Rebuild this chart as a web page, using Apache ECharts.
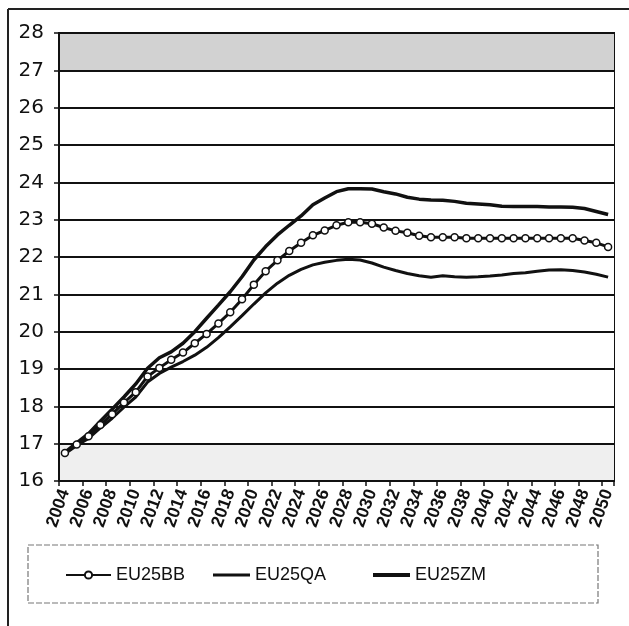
<!DOCTYPE html>
<html>
<head>
<meta charset="utf-8">
<script src="https://cdn.jsdelivr.net/npm/echarts@6/dist/echarts.min.js"></script>
<style>
html,body{margin:0;padding:0;background:#fff;}
#c{width:629px;height:626px;}
</style>
</head>
<body>
<div id="c"></div>
<script>
const years = ["2004","2005","2006","2007","2008","2009","2010","2011","2012","2013","2014","2015","2016","2017","2018","2019","2020","2021","2022","2023","2024","2025","2026","2027","2028","2029","2030","2031","2032","2033","2034","2035","2036","2037","2038","2039","2040","2041","2042","2043","2044","2045","2046","2047","2048","2049","2050"];
const eu25BB = [16.75,16.98,17.2,17.5,17.79,18.1,18.38,18.8,19.03,19.25,19.44,19.69,19.94,20.22,20.52,20.87,21.26,21.62,21.91,22.16,22.38,22.58,22.71,22.85,22.93,22.93,22.89,22.79,22.7,22.65,22.57,22.53,22.53,22.53,22.5,22.5,22.5,22.5,22.5,22.5,22.5,22.5,22.5,22.5,22.44,22.38,22.27];
const eu25QA = [16.73,16.95,17.14,17.42,17.68,17.98,18.25,18.65,18.88,19.05,19.2,19.37,19.58,19.84,20.13,20.43,20.74,21.04,21.3,21.51,21.67,21.79,21.86,21.91,21.94,21.92,21.84,21.73,21.64,21.56,21.5,21.46,21.5,21.47,21.46,21.47,21.49,21.52,21.56,21.58,21.62,21.65,21.66,21.64,21.6,21.54,21.46];
const eu25ZM = [16.77,17.02,17.27,17.6,17.92,18.25,18.6,19.02,19.3,19.46,19.69,20.0,20.36,20.71,21.07,21.47,21.92,22.28,22.59,22.85,23.1,23.4,23.58,23.75,23.83,23.83,23.82,23.75,23.69,23.6,23.55,23.53,23.52,23.49,23.44,23.42,23.4,23.36,23.35,23.35,23.35,23.34,23.34,23.33,23.3,23.22,23.14];
const seriesNames = ["EU25BB","EU25QA","EU25ZM"];
const yTicks = {min:16, max:28, step:1};

const chart = echarts.init(document.getElementById('c'), null, {renderer:'canvas'});
const bandColors = ['#efefef','#fff','#fff','#fff','#fff','#fff','#fff','#fff','#fff','#fff','#fff','#d2d2d2'];
const legendText = {fontSize:18, color:'#111', fontFamily:'Liberation Sans, Arial, sans-serif'};
chart.setOption({
  animation:false,
  backgroundColor:'#fff',
  graphic:[
    {type:'line', shape:{x1:8,y1:9,x2:629,y2:9}, style:{stroke:'#222',lineWidth:2}},
    {type:'line', shape:{x1:8,y1:9,x2:8,y2:626}, style:{stroke:'#222',lineWidth:2}},
    {type:'rect', shape:{x:28,y:545,width:570,height:58}, style:{fill:'none',stroke:'#777',lineWidth:1.2,lineDash:[6,2]}, z:-1}
  ],
  grid:{left:59,right:15,top:33,bottom:145,show:true,borderColor:'#111',borderWidth:2,backgroundColor:'transparent'},
  legend:[
    {data:[{name:seriesNames[0]}], left:60, top:561, itemWidth:45, itemHeight:9, textStyle:legendText, itemGap:0},
    {data:[{name:seriesNames[1], icon:'rect'}], left:208, top:561, itemWidth:37, itemHeight:3, textStyle:legendText, itemGap:0},
    {data:[{name:seriesNames[2], icon:'rect'}], left:368, top:561, itemWidth:37, itemHeight:4, textStyle:legendText, itemGap:0}
  ],
  xAxis:{
    type:'category', data:years, boundaryGap:true,
    axisLine:{lineStyle:{color:'#111',width:2}},
    axisTick:{show:true, interval:1, length:5, lineStyle:{color:'#111',width:1.5}},
    axisLabel:{interval:1, rotate:70, fontSize:17.5, color:'#111', margin:9, fontFamily:'Liberation Sans, Arial, sans-serif', fontWeight:'bold'},
    splitLine:{show:false}
  },
  yAxis:{
    type:'value', min:yTicks.min, max:yTicks.max, interval:yTicks.step,
    axisLine:{show:true, lineStyle:{color:'#111',width:2}},
    axisTick:{show:true, length:5, lineStyle:{color:'#111',width:1.5}},
    axisLabel:{fontSize:20, color:'#111', margin:15, fontFamily:'DejaVu Sans, Verdana, sans-serif'},
    splitLine:{show:true, lineStyle:{color:'#111',width:1.8}},
    splitArea:{show:true, areaStyle:{color:bandColors}}
  },
  series:[
    {name:seriesNames[0], type:'line', data:eu25BB, symbol:'circle', symbolSize:7, showSymbol:true,
     lineStyle:{color:'#111',width:3}, itemStyle:{color:'#fff',borderColor:'#111',borderWidth:1.5}, z:4},
    {name:seriesNames[1], type:'line', data:eu25QA, symbol:'none',
     lineStyle:{color:'#111',width:3}, itemStyle:{color:'#111'}, z:3},
    {name:seriesNames[2], type:'line', data:eu25ZM, symbol:'none',
     lineStyle:{color:'#111',width:3.5}, itemStyle:{color:'#111'}, z:3}
  ]
});
</script>
</body>
</html>
